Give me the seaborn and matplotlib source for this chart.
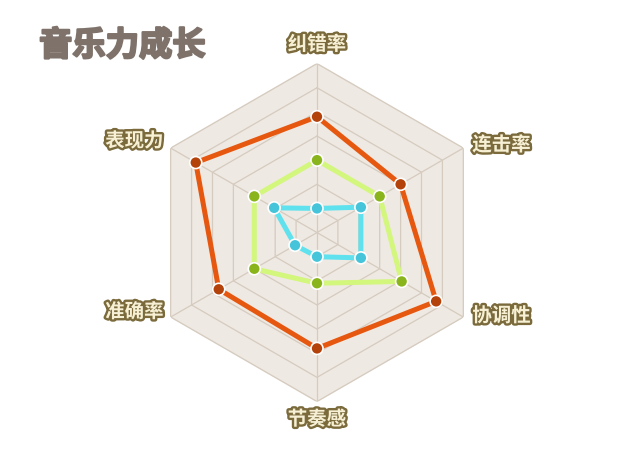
import numpy as np
import pandas as pd
import matplotlib
matplotlib.use("Agg")
import matplotlib.pyplot as plt
import matplotlib.patheffects as pe
import seaborn as sns

# data (outer ring = 7)
categories = ['纠错率', '连击率', '协调性', '节奏感', '准确率', '表现力']
orange_vals = [4.8, 4.0, 5.7, 4.8, 4.7, 5.8]
green_vals = [3.0, 3.0, 4.05, 2.1, 3.0, 3.0]
cyan_vals = [1.0, 2.1, 2.1, 1.0, 1.05, 2.05]
max_val = 7

sns.set_style("white")
plt.rcParams['font.family'] = ['Noto Sans CJK SC', 'DejaVu Sans']

angles = np.linspace(0, 2 * np.pi, len(categories), endpoint=False)
closed = np.append(angles, 2 * np.pi)

rows = []
for name, vals in [('orange', orange_vals), ('green', green_vals), ('cyan', cyan_vals)]:
    for a, v in zip(closed, vals + vals[:1]):
        rows.append({'series': name, 'theta': a, 'value': v})
df = pd.DataFrame(rows)
pts = df[df['theta'] < 2 * np.pi]

line_colors = {'orange': '#E6580F', 'green': '#D3F67C', 'cyan': '#5FE2EE'}
dot_colors = {'orange': '#B3420B', 'green': '#8AB41B', 'cyan': '#45C4DA'}

fig = plt.figure(figsize=(6.4, 4.56), dpi=100)
ax = fig.add_axes([0.2313, 0.1173, 0.528, 0.741], projection='polar')
ax.set_theta_zero_location('N')
ax.set_theta_direction(-1)
ax.set_ylim(0, max_val)
ax.grid(False)
ax.set_xticks([])
ax.set_yticks([])
ax.spines['polar'].set_visible(False)
ax.patch.set_alpha(0)

grid_color = '#D5CBBF'
ax.fill(angles, [max_val] * len(angles), color='#EFE9E3', zorder=0)
for k in range(1, max_val + 1):
    ax.plot(closed, [k] * len(closed), color=grid_color, lw=0.9, zorder=1)
for a in angles:
    ax.plot([a, a], [0, max_val], color=grid_color, lw=0.9, zorder=1)

sns.lineplot(data=df, x='theta', y='value', hue='series', sort=False,
             estimator=None, palette=line_colors, linewidth=3.6,
             legend=False, ax=ax, zorder=3)
sns.scatterplot(data=pts, x='theta', y='value', hue='series',
                palette=dot_colors, s=75, edgecolor='white', linewidth=1.2,
                legend=False, ax=ax, zorder=5)
ax.set_xlabel('')
ax.set_ylabel('')

# axis labels, offset from outer vertices in pixels
offsets = [(0, 19, 'center'), (9, 3, 'left'), (9, 1, 'left'),
           (0, -18, 'center'), (-7, 5, 'right'), (-7, 7, 'right')]
for a, lab, (dx, dy, ha) in zip(angles, categories, offsets):
    t = ax.annotate(lab, xy=(a, max_val), xytext=(dx, dy),
                    textcoords='offset pixels', ha=ha, va='center',
                    fontsize=14, weight='heavy', color='#F7F0D4',
                    annotation_clip=False)
    t.set_path_effects([pe.withStroke(linewidth=3.4, foreground='#7A6A3C')])

title = fig.text(39 / 640, 1 - 47 / 456, '音乐力成长', ha='left', va='center',
                 fontsize=24, weight='heavy', color='#7E726A')
title.set_path_effects([pe.withStroke(linewidth=1.6, foreground='#7E726A')])

fig.savefig('out.png', dpi=100)
